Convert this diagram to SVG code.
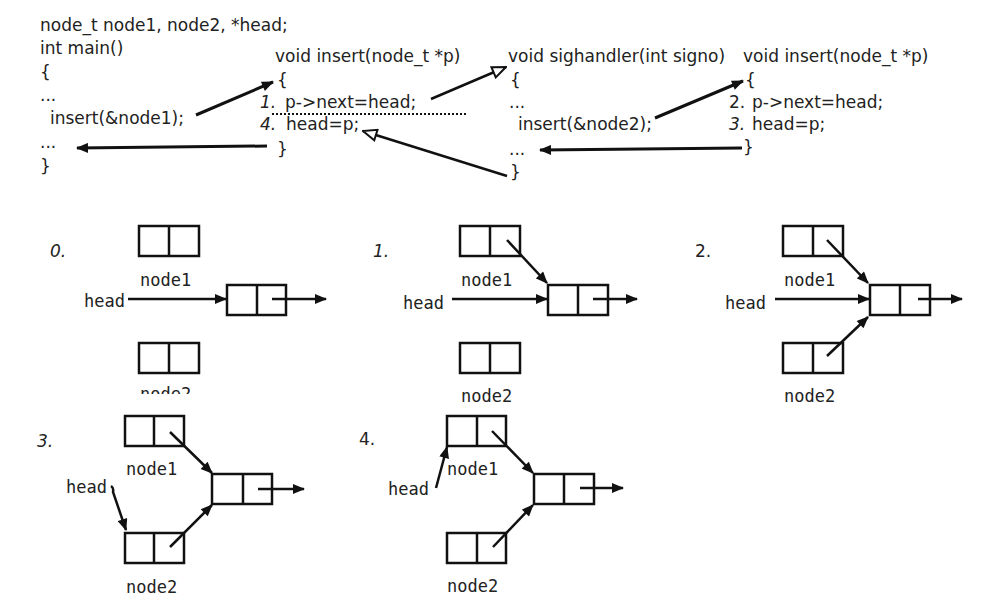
<svg xmlns="http://www.w3.org/2000/svg" width="1002" height="609" viewBox="0 0 1002 609">
<defs>
<style>
.code{font-family:"DejaVu Sans","Liberation Sans",sans-serif;font-size:17px;fill:#222}
.it{font-style:italic}
.lbl{font-family:"DejaVu Sans Mono","Liberation Mono",monospace;font-size:17px;fill:#222}
.box{fill:none;stroke:#111;stroke-width:2.5}
.ar{fill:none;stroke:#111;stroke-width:2.5;marker-end:url(#fa)}
.ar3{fill:none;stroke:#111;stroke-width:3;marker-end:url(#fa)}
.ao{fill:none;stroke:#111;stroke-width:2.5;marker-end:url(#oa)}
</style>
<marker id="fa" viewBox="0 0 12 10" refX="11" refY="5" markerWidth="13" markerHeight="10" markerUnits="userSpaceOnUse" orient="auto"><path d="M0,0 L12,5 L0,10 z" fill="#111"/></marker>
<marker id="oa" viewBox="0 0 16 14" refX="15" refY="7" markerWidth="16" markerHeight="14" markerUnits="userSpaceOnUse" orient="auto"><path d="M1.5,1.5 L15,7 L1.5,12.5 z" fill="#fff" stroke="#111" stroke-width="2"/></marker>
<clipPath id="cut"><rect x="0" y="0" width="1002" height="394"/></clipPath>
</defs>
<rect width="1002" height="609" fill="#fff"/>

<g id="main">
<text class="code" x="40" y="31">node_t node1, node2, *head;</text>
<text class="code" x="40" y="54">int main()</text>
<text class="code" x="40" y="78">{</text>
<text class="code" x="40" y="101">...</text>
<text class="code" x="50" y="124">insert(&amp;node1);</text>
<text class="code" x="40" y="148">...</text>
<text class="code" x="40" y="172">}</text>
</g>

<g id="insert1">
<text class="code" x="275" y="62">void insert(node_t *p)</text>
<text class="code" x="277" y="86">{</text>
<text class="code it" x="260" y="108">1.</text>
<text class="code" x="285" y="108">p-&gt;next=head;</text>
<text class="code it" x="260" y="130">4.</text>
<text class="code" x="286" y="130">head=p;</text>
<text class="code" x="277" y="155">}</text>
<line x1="272" y1="114" x2="468" y2="114" stroke="#111" stroke-width="2" stroke-dasharray="2,2"/>
</g>

<g id="sighandler">
<text class="code" x="508" y="62">void sighandler(int signo)</text>
<text class="code" x="510" y="86">{</text>
<text class="code" x="509" y="108">...</text>
<text class="code" x="518" y="130">insert(&amp;node2);</text>
<text class="code" x="509" y="155">...</text>
<text class="code" x="510" y="178">}</text>
</g>

<g id="insert2">
<text class="code" x="743" y="62">void insert(node_t *p)</text>
<text class="code" x="745" y="86">{</text>
<text class="code" x="729" y="108">2.</text>
<text class="code" x="752" y="108">p-&gt;next=head;</text>
<text class="code it" x="729" y="130">3.</text>
<text class="code" x="752" y="130">head=p;</text>
<text class="code" x="743" y="153">}</text>
</g>

<g id="connectors">
<line class="ar3" x1="196" y1="115" x2="273" y2="82"/>
<line class="ar3" x1="267" y1="146" x2="77" y2="148"/>
<line class="ao" x1="431" y1="99" x2="506" y2="67"/>
<line class="ao" x1="507" y1="176" x2="363" y2="131"/>
<line class="ar3" x1="655" y1="118" x2="743" y2="81"/>
<line class="ar3" x1="742" y1="148" x2="540" y2="150"/>
</g>

<g id="step0">
<text class="code it" x="50" y="257">0.</text>
<rect class="box" x="139" y="226" width="60" height="30"/><line class="box" x1="169" y1="226" x2="169" y2="256"/>
<text class="lbl" x="140" y="286">node1</text>
<text class="lbl" x="84" y="307">head</text>
<line class="ar" x1="128" y1="299" x2="226" y2="299"/>
<rect class="box" x="227" y="285" width="59" height="30"/><line class="box" x1="257" y1="285" x2="257" y2="315"/>
<line class="ar" x1="272" y1="299" x2="326" y2="299"/>
<rect class="box" x="139" y="343" width="60" height="30"/><line class="box" x1="169" y1="343" x2="169" y2="373"/>
<text class="lbl" x="140" y="400" clip-path="url(#cut)">node2</text>
</g>

<g id="step1">
<text class="code it" x="373" y="257">1.</text>
<rect class="box" x="460" y="226" width="60" height="30"/><line class="box" x1="490" y1="226" x2="490" y2="256"/>
<text class="lbl" x="461" y="286">node1</text>
<line class="ar" x1="507" y1="240" x2="547" y2="283"/>
<text class="lbl" x="403" y="309">head</text>
<line class="ar" x1="452" y1="299" x2="547" y2="299"/>
<rect class="box" x="548" y="285" width="60" height="30"/><line class="box" x1="578" y1="285" x2="578" y2="315"/>
<line class="ar" x1="593" y1="299" x2="637" y2="299"/>
<rect class="box" x="460" y="343" width="60" height="30"/><line class="box" x1="490" y1="343" x2="490" y2="373"/>
<text class="lbl" x="461" y="402">node2</text>
</g>

<g id="step2">
<text class="code" x="695" y="257">2.</text>
<rect class="box" x="783" y="226" width="60" height="30"/><line class="box" x1="813" y1="226" x2="813" y2="256"/>
<text class="lbl" x="784" y="286">node1</text>
<line class="ar" x1="827" y1="240" x2="868" y2="283"/>
<text class="lbl" x="725" y="309">head</text>
<line class="ar" x1="775" y1="299" x2="869" y2="299"/>
<rect class="box" x="870" y="285" width="60" height="30"/><line class="box" x1="900" y1="285" x2="900" y2="315"/>
<line class="ar" x1="918" y1="299" x2="962" y2="299"/>
<rect class="box" x="783" y="343" width="60" height="30"/><line class="box" x1="813" y1="343" x2="813" y2="373"/>
<line class="ar" x1="827" y1="356" x2="868" y2="317"/>
<text class="lbl" x="784" y="402">node2</text>
</g>

<g id="step3">
<text class="code it" x="37" y="447">3.</text>
<rect class="box" x="125" y="416" width="59" height="30"/><line class="box" x1="154" y1="416" x2="154" y2="446"/>
<text class="lbl" x="126" y="475">node1</text>
<line class="ar" x1="170" y1="432" x2="212" y2="473"/>
<text class="lbl" x="66" y="493">head</text>
<path class="ar" d="M111,486 Q114,488 113,492 L126,530"/>
<rect class="box" x="212" y="474" width="60" height="30"/><line class="box" x1="243" y1="474" x2="243" y2="504"/>
<line class="ar" x1="258" y1="489" x2="304" y2="489"/>
<rect class="box" x="125" y="533" width="59" height="30"/><line class="box" x1="154" y1="533" x2="154" y2="563"/>
<line class="ar" x1="170" y1="547" x2="212" y2="505"/>
<text class="lbl" x="126" y="593">node2</text>
</g>

<g id="step4">
<text class="code" x="359" y="445">4.</text>
<rect class="box" x="447" y="416" width="59" height="30"/><line class="box" x1="477" y1="416" x2="477" y2="446"/>
<text class="lbl" x="447" y="475">node1</text>
<line class="ar" x1="492" y1="431" x2="533" y2="473"/>
<text class="lbl" x="388" y="495">head</text>
<line class="ar" x1="436" y1="488" x2="447" y2="447"/>
<rect class="box" x="534" y="474" width="60" height="30"/><line class="box" x1="564" y1="474" x2="564" y2="504"/>
<line class="ar" x1="580" y1="488" x2="623" y2="488"/>
<rect class="box" x="447" y="533" width="59" height="30"/><line class="box" x1="477" y1="533" x2="477" y2="563"/>
<line class="ar" x1="493" y1="547" x2="533" y2="505"/>
<text class="lbl" x="447" y="592">node2</text>
</g>
</svg>
